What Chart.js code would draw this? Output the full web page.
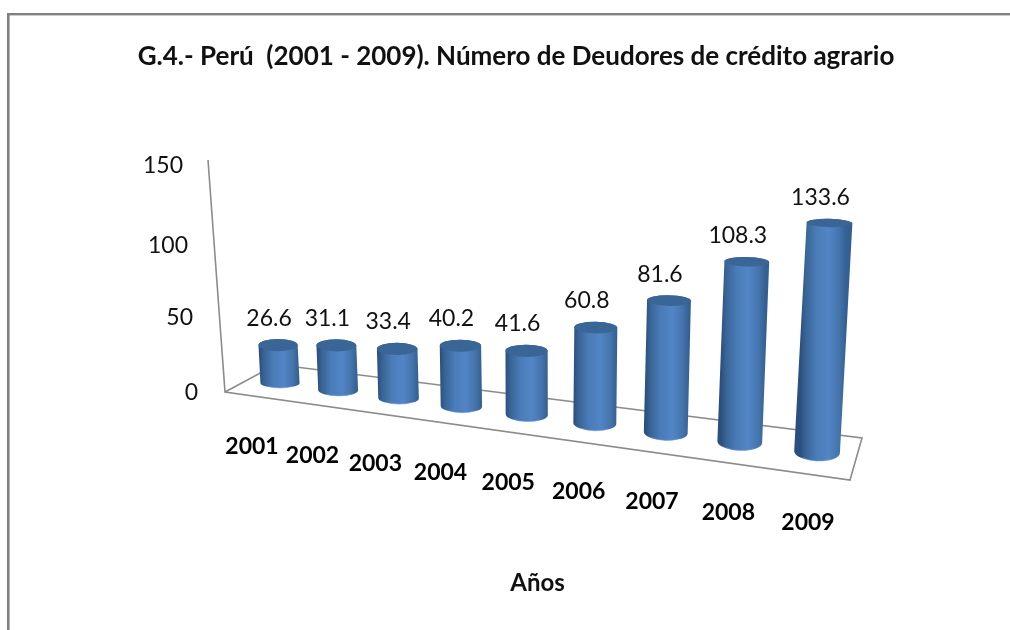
<!DOCTYPE html>
<html><head><meta charset="utf-8">
<style>html,body{margin:0;padding:0;background:#fff}canvas{display:block}</style>
<script src="https://cdn.jsdelivr.net/npm/chart.js@4"></script></head>
<body><canvas id="c" width="1010" height="630"></canvas>
<script>
const years = ['2001','2002','2003','2004','2005','2006','2007','2008','2009'];
const debtors = [26.6,31.1,33.4,40.2,41.6,60.8,81.6,108.3,133.6];
const yTicks = [0,50,100,150];
const titleText = 'G.4.- Perú  (2001 - 2009). Número de Deudores de crédito agrario';
const xTitle = 'Años';
const FONT = 'Lato, "Open Sans", sans-serif';

// Perspective of the 3-D view: where the first / last category sit at value 0 and at REF_VALUE.
const REF_VALUE = 133.6;
const QUAD = [[280,383],[817,452],[829.5,223],[270,187]];
const FLOOR = {a:[225,392], b:[276,364.5], c:[862,438], d:[850,480]};
const WALL_TOP = [208,160];
const TICK_NUDGE = [0,1,4,0];
const BODY_STOPS = [[0,'#2b4f7e'],[.12,'#396596'],[.35,'#4a7cb8'],[.62,'#5285c6'],[.85,'#4474ab'],[1,'#345f92']];

function makeH(q){
  const [[x0,y0],[x1,y1],[x2,y2],[x3,y3]] = q;
  const dx1=x1-x2,dx2=x3-x2,sx=x0-x1+x2-x3,dy1=y1-y2,dy2=y3-y2,sy=y0-y1+y2-y3;
  const den=dx1*dy2-dx2*dy1;
  const g=(sx*dy2-dx2*sy)/den,h=(dx1*sy-sx*dy1)/den;
  const a=x1-x0+g*x1,b=x3-x0+h*x3,d=y1-y0+g*y1,e=y3-y0+h*y3;
  return (s,t)=>{const w=g*s+h*t+1;return [(a*s+b*t+x0)/w,(d*s+e*t+y0)/w];};
}
const H = makeH(QUAD);

const perspective = {
  id:'perspective',
  beforeDatasetsDraw(chart){
    const c=chart.ctx, f=FLOOR;
    c.save();
    c.strokeStyle='#8c8c8c'; c.lineWidth=1.6; c.lineJoin='miter';
    c.beginPath();
    c.moveTo(...WALL_TOP); c.lineTo(...f.a); c.lineTo(...f.d); c.lineTo(...f.c); c.lineTo(...f.b); c.lineTo(...f.a);
    c.stroke();
    c.restore();
  },
  afterDatasetsDraw(chart){
    const c=chart.ctx, xs=chart.scales.x, ys=chart.scales.y;
    const meta=chart.getDatasetMeta(0);
    const px0=xs.getPixelForValue(0), px8=xs.getPixelForValue(years.length-1);
    const base=ys.getPixelForValue(0), ref=ys.getPixelForValue(REF_VALUE);
    const plotH=chart.chartArea.bottom-chart.chartArea.top;
    meta.data.forEach((el,i)=>{
      const s=(el.x-px0)/(px8-px0), t=(base-el.y)/(base-ref);
      const B=H(s,0), T=H(s,t), F=H(s,(base-chart.chartArea.top)/(base-ref));
      const local=Math.hypot(F[0]-B[0],F[1]-B[1]);
      const r=el.width/2*local/plotH;
      const bTop=4.2+0.015*(T[1]-223), bBot=5+0.058*(B[1]-383);
      const rot=0.05*s;
      const gg=c.createLinearGradient((T[0]+B[0])/2-r,0,(T[0]+B[0])/2+r,0);
      BODY_STOPS.forEach(p=>gg.addColorStop(p[0],p[1]));
      c.save();
      c.fillStyle=gg;
      c.beginPath();
      c.moveTo(T[0]-r,T[1]);
      c.lineTo(B[0]-r,B[1]);
      c.ellipse(B[0],B[1],r,bBot,rot,Math.PI,0,true);
      c.lineTo(T[0]+r,T[1]);
      c.ellipse(T[0],T[1],r,bTop,rot*0.5,0,Math.PI,true);
      c.closePath(); c.fill();
      // lighter rim along the foot of the cylinder
      c.strokeStyle='rgba(111,159,220,.55)'; c.lineWidth=1;
      c.beginPath(); c.ellipse(B[0],B[1],r-3,bBot,rot,Math.PI*.75,Math.PI*.25,true); c.stroke();
      // top cap
      c.fillStyle='#3a6597';
      c.beginPath(); c.ellipse(T[0],T[1],r,bTop,rot*0.5,0,Math.PI*2); c.fill();
      // value label
      c.fillStyle='#111'; c.font='23px '+FONT; c.textAlign='center'; c.textBaseline='middle';
      c.fillText(String(debtors[i]),T[0]-9,T[1]-bTop-21);
      // category label
      c.fillStyle='#000'; c.font='bold 23px '+FONT;
      c.fillText(years[i],B[0]-28+19*s,B[1]+64+7*s);
      c.restore();
    });
    // value-axis labels, leaning with the wall
    c.save();
    c.fillStyle='#111'; c.font='23px '+FONT; c.textAlign='right'; c.textBaseline='middle';
    ys.ticks.forEach((tk,i)=>{
      const y=ys.getPixelForTick(i);
      const v=(base-y)/plotH;
      c.fillText(String(tk.value),198-15*v,y+TICK_NUDGE[i]);
    });
    c.restore();
  },
  afterDraw(chart){
    const c=chart.ctx;
    c.save(); c.fillStyle='#808080';
    c.fillRect(7,13,1003,2.4); c.fillRect(7,13,2.6,617);
    c.restore();
  }
};

new Chart(document.getElementById('c'),{
  type:'bar',
  data:{labels:years,datasets:[{data:debtors,backgroundColor:'rgba(0,0,0,0)',borderWidth:0,barPercentage:.58,categoryPercentage:1}]},
  options:{
    responsive:false,animation:false,
    layout:{padding:{left:22,right:0,top:0,bottom:32}},
    plugins:{
      legend:{display:false},tooltip:{enabled:false},
      title:{display:true,text:titleText,color:'#111',font:{family:FONT,size:26,weight:'bold'},padding:{top:41,bottom:93}}
    },
    scales:{
      x:{grid:{display:false},border:{display:false},ticks:{display:false},
         title:{display:true,text:xTitle,color:'#111',font:{family:FONT,size:24,weight:'bold'},padding:{top:140,bottom:0}},
         afterFit(s){s.height=205;}},
      y:{min:0,max:150,afterBuildTicks(s){s.ticks=yTicks.map(v=>({value:v}));},
         grid:{display:false},border:{display:false},ticks:{display:false},
         afterFit(s){s.width=203;}},
      spacer:{position:'right',grid:{display:false},border:{display:false},ticks:{display:false},
         afterFit(s){s.width=160;}}
    }
  },
  plugins:[perspective]
});
</script></body></html>
